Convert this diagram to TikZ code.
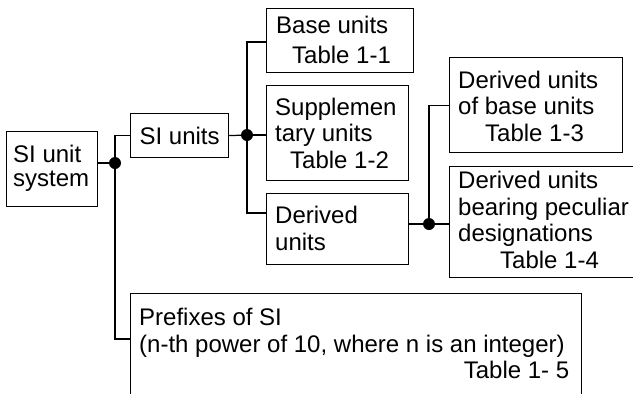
\documentclass[tikz,border=0pt]{standalone}
\usepackage{fontspec}
\setmainfont{Liberation Sans}
\begin{document}
\begin{tikzpicture}[x=1pt,y=-1pt,
  box/.style={draw, line width=1.25pt, inner sep=0pt, anchor=north west},
  lbl/.style={inner sep=0pt, anchor=west, align=left, font=\fontsize{24}{26.5}\selectfont},
  dot/.style={circle, fill=black, inner sep=0pt, minimum size=12pt},
  wire/.style={line width=1.25pt}]
\useasboundingbox (0,0) rectangle (633,394);
\clip (0,0) rectangle (633,394);
% boxes
\node[box,minimum width=91pt,minimum height=75pt] (sys) at (6,131) {};
\node[box,minimum width=98pt,minimum height=44pt] (si) at (130,113) {};
\node[box,minimum width=147pt,minimum height=64pt] (base) at (266,8) {};
\node[box,minimum width=142pt,minimum height=95pt] (supp) at (266,85) {};
\node[box,minimum width=142pt,minimum height=71pt] (der) at (266,193) {};
\node[box,minimum width=173pt,minimum height=95pt] (dbase) at (449,57) {};
\node[box,minimum width=220pt,minimum height=111pt] (pec) at (449,166) {};
\node[box,minimum width=451pt,minimum height=140pt] (pref) at (130,293) {};
% texts
\node[lbl,font=\fontsize{24}{23.5}\selectfont] (sysT) at (13,168.5) {SI unit\\system};
\node[lbl,anchor=center] (siT) at (si.center) {SI units};
\node[lbl,font=\fontsize{24}{29.5}\selectfont] (baseT) at (276,40) {Base units\\\hspace*{16pt}Table 1-1};
\node[lbl] (suppT) at (275,133) {Supplemen\\tary units\\\hspace*{15pt}Table 1-2};
\node[lbl] (derT) at (275,228.5) {Derived\\units};
\node[lbl] (dbaseT) at (458,106) {Derived units\\of base units\\\hspace*{27pt}Table 1-3};
\node[lbl] (pecT) at (458,220) {Derived units\\bearing peculiar\\designations\\\hspace*{42pt}Table 1-4};
\node[lbl] (prefT) at (139,343.5) {Prefixes of SI\\(n-th power of 10, where n is an integer)\\\hspace*{430pt}\llap{Table 1- 5}};
% junctions
\node[dot] (j1) at (115,163) {};
\node[dot] (j2) at (247,135) {};
\node[dot] (j3) at (429,224) {};
\coordinate (pb) at (0,339);
\coordinate (b1) at (0,42);
\coordinate (b3) at (0,213);
% connectors
\draw[wire] (sys.east |- j1) -- (j1.center);
\draw[wire] (si.west) -| (j1.center) |- (pref.west |- pb);
\draw[wire] (si.east) -- (j2.center);
\draw[wire] (base.west |- b1) -| (j2.center) |- (der.west |- b3);
\draw[wire] (j2.center) -- (supp.west |- j2);
\draw[wire] (der.east |- j3) -- (j3.center) -- (pec.west |- j3);
\draw[wire] (dbase.west) -| (j3.center);
\end{tikzpicture}
\end{document}
